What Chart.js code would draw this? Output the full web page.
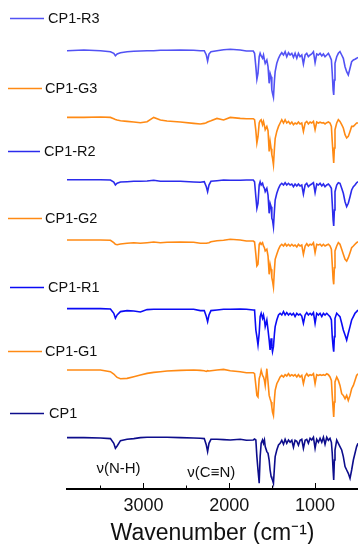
<!DOCTYPE html>
<html><head><meta charset="utf-8">
<script src="https://cdn.jsdelivr.net/npm/chart.js@4.4.0/dist/chart.umd.min.js"></script>
<style>html,body{margin:0;padding:0;background:#fff}#wrap{width:358px;height:544px;position:relative}canvas{display:block}</style>
</head><body><div id="wrap"><canvas id="c" width="358" height="544"></canvas></div>
<script>
// Wavenumbers (cm-1), shared sampling for all spectra
const WAVENUMBERS = [3890,3694,3500,3384,3345,3326,3306,3267,3190,3112,3035,2957,2880,2802,2725,2570,2415,2337,2291,2267,2252,2236,2213,2143,2066,1988,1872,
1800,1720,1705,1690,1678,1665,1651,1640,1628,1612,1601,1590,1581,1562,1548,1535,1524,1512,1504,1496,1485,1473,1465,1446,1426,1407,1388,1368,1349,1330,1310,1291,1271,1252,1233,1213,1194,1175,1155,1136,1116,1097,1078,1058,1039,1019,1000,981,961,942,922,903,884,864,845,826,810,800,790,783,775,768,748,729,710,690,671,651,632,613,593,574,554,535,516,500];

const SERIES_NAMES = ['CP1-R3','CP1-G3','CP1-R2','CP1-G2','CP1-R1','CP1-G1','CP1'];

// Transmittance drop below each trace's baseline (positive = downward)
const CP1_R3 = [-0.3,-1,-0.3,0.7,2.3,4.7,3,1.7,0.7,0.3,0,-0.3,-0.3,-0.7,-0.7,-1,-0.7,-0.3,-0.3,4,10,3,0.7,-0.3,-1.3,-1.7,-1,
0,0,2.3,15.7,28.3,22.3,5.7,2.3,5,7.3,4,9,12.3,9,15.7,32.3,22.3,25.7,39,42.3,46.3,29,20.7,12.3,7.3,4,1.7,4,0.7,5.7,1.7,4,2.3,6.3,2.3,7.3,2.3,5.7,4,13,4,2.3,5.7,4,3,0.7,11.7,3,4,2.3,5,3,5.7,4,2.3,5.7,9,22.3,39,44,29,12.3,5.7,2.3,0.7,4,7.3,15.7,20.7,24,17.3,10.7,9,8.3,7.3,6.3];
const CP1_G3 = [-1.3,-1.3,-1.7,-1.3,0,0.7,1.3,2,2.7,3.3,4,3,-1.3,1.3,2.3,3.3,4.7,5.3,4.7,4,3.3,2.7,2,-0.3,1.3,-1.3,-0.3,
0,0,1,12,24.3,18,4.3,2,1,6,2.7,7,11,7.7,12,32.7,22.7,30,36,39.3,46,29.3,20,12.7,7.7,4.3,1,4.3,1,4.3,2.7,5.3,3.3,6,4.3,5.3,3.3,5.3,4.3,12.7,4.3,2.7,5.3,3.3,4.3,2.7,11,3.3,4.3,3.5,4.3,4,5.3,4,3.3,4.3,7.7,22.7,36,44.3,29.3,11,4.3,1,2.7,6,9.3,16,19.3,17.7,12.7,7.7,7.7,6,4.3,4.3];
const CP1_R2 = [-0.3,-0.3,-0.3,0,2,5,3.3,2,1.7,1.3,1.3,1,0.3,1.3,1.3,1.3,2,2.3,1.7,6.7,11.7,5,1.3,0.7,0,0.3,0.3,
0,0,1.7,16.7,28.3,23.3,5,1.7,5,3.3,6.7,8.3,11.7,8.3,15,33.3,23.3,26.7,38.3,40,46.7,30,20,13.3,8.3,5,3.3,5,2.7,5,3.3,5,4,6.7,4,6,4,6,5,14,5,3.3,6.7,5,4,2.7,12.7,4,5,3.3,6,4,6.7,5,4,6,8.3,23.3,40,46,30,11.7,5,2.7,3.3,8.3,13.3,21.7,26.7,23.3,16.7,10,6.7,5,2.7,1.7];
const CP1_G2 = [-1,-1,-1,-0.7,1.7,3.3,3.7,3,2.3,1.7,2.3,1.7,1,1.7,1.3,1,1.3,2.3,2.3,2.3,2,1.7,0.7,-0.3,-0.7,-1.7,-1,
0,0,1,13.3,25,23.3,3.3,1.7,3.3,1.7,5,6.7,10,8.3,15,33.3,23.3,28.3,36.7,40,46,28.3,18.3,13.3,8.3,5,3.3,5,2.7,5,3.3,5,3.3,5,4,6,3.3,5,4,13.3,5,2.7,5,3.3,4,1.7,11.7,3.3,4,3.3,5,3.3,5,4,3.3,5,8.3,23.3,38.3,43.3,26.7,10,5,1.7,3.3,8.3,13.3,18.3,20,16.7,11.7,6.7,5,3.3,1.7,0.7];
const CP1_R1 = [-0.7,-0.7,-0.7,-0.3,4,9,5.7,2.3,1.3,1.7,2.7,0.3,0,0,0,0,0,1.3,1.3,7.3,12.3,5.7,1.3,0.7,0,0,-0.3,
0,0.7,0.7,20.7,27.3,35.7,24,7.3,4,9,5.7,10.7,17.3,10.7,20.7,30.7,40.7,29,37.3,42.3,37.3,24,17.3,10.7,5.7,4,5.7,2.3,5.7,3.3,5.7,4,5.7,4,7.3,4,5.7,4.7,6.7,14,5.7,3.3,5.7,4,5.7,3.3,14,4,5.7,4,7.3,4,5.7,4,5.7,7.3,10.7,27.3,37.3,42.3,27.3,9,4,5.7,7.3,14,20.7,25.7,30.7,24,17.3,10.7,7.3,4,2.3,0.7];
const CP1_G1 = [-2.7,-2.7,-2.7,-1,1.3,3,4.7,6,5.7,4,2.3,0.7,-0.3,-1,-1.7,-2.3,-2.7,-2.3,-2,-1.3,-2,-1.7,-2,-2.7,-3.3,-2,-1,
0,0,1,12.7,22.7,24.3,6,2.7,-2.3,2.7,4.3,7.7,12.7,-4,9.3,22.7,26,29.3,34.3,39.3,42.7,26,17.7,11,7.7,4.3,2.7,4.3,2,3.3,1,3.3,2,3.3,2,4.3,2,4.3,2.7,11,3.3,1,3.3,2,2.7,1,11,2,2.7,2,2.7,2,2.7,1,2,4.3,7.7,22.7,36,44.3,29.3,9.3,4.3,7.7,12.7,21,22.7,26,22.7,27.7,22.7,16,12.7,7.7,2.7,1];
const CP1 = [-0.7,-0.7,-0.3,0.3,5,10,7.7,2.3,1,0.3,-0.7,-1,-1,-1,-1,-0.7,-0.3,0,0.3,6.7,13.3,5,1,1,1.3,1.7,1,
2,1.7,0.7,1.7,18.3,31.7,45,18.3,5,1.7,5,1.7,8.3,13.3,15,21.7,31.7,38.3,40,41.7,45,28.3,18.3,11.7,6.7,5,2,6,1,5,1.7,4,2,9,2,3,7,2,1,10,2,1,5,0,1.7,-1,10,1,4,0,4,-1,6,-1,2,0,4,15,31.7,41.7,21.7,11.7,1.7,5,8.3,11.7,18.3,28.3,31.7,35,40,31.7,21.7,15,8.3,5];

// Vertical offsets (stacking) of each trace, in y units
const OFFSETS = [438, 370.3, 309, 248, 179.7, 116.3, 50.7];

const MAJOR_TICKS = [3000, 2000, 1000];
const MINOR_TICKS = [3500, 2500, 1500];
const BAND_LABELS = ['ν(N-H)', 'ν(C≡N)'];
const BAND_POSITIONS = [3290, 2209];

const SERIES = [CP1_R3, CP1_G3, CP1_R2, CP1_G2, CP1_R1, CP1_G1, CP1];
const COLORS = ['#5252F4', '#FF8A14', '#2B2BEC', '#FF8A14', '#0B0BF5', '#FF8A14', '#0D0D8C'];

const datasets = SERIES.map((arr, i) => ({
  label: SERIES_NAMES[i],
  data: WAVENUMBERS.map((w, j) => ({ x: w, y: OFFSETS[i] - arr[j] })),
  borderColor: COLORS[i],
  borderWidth: 1.6,
  pointRadius: 0,
  tension: 0,
  fill: false
}));

const FONT = "'Liberation Sans', Arial, sans-serif";

const decor = {
  id: 'decor',
  afterDraw(chart) {
    const ctx = chart.ctx;
    const xs = chart.scales.x;
    const bottom = chart.chartArea.bottom;
    ctx.save();
    // inward tick marks
    ctx.strokeStyle = '#000';
    ctx.lineWidth = 1;
    MAJOR_TICKS.forEach(v => {
      const x = Math.round(xs.getPixelForValue(v)) + 0.5;
      ctx.beginPath(); ctx.moveTo(x, bottom); ctx.lineTo(x, bottom - 6); ctx.stroke();
    });
    MINOR_TICKS.forEach(v => {
      const x = Math.round(xs.getPixelForValue(v)) + 0.5;
      ctx.beginPath(); ctx.moveTo(x, bottom); ctx.lineTo(x, bottom - 3.5); ctx.stroke();
    });
    // legend entries beside each trace
    const legY = [18, 88, 151, 218, 287, 351, 413];
    const legX0 = [10, 8, 8, 8, 10, 8, 10];
    const legX1 = [44, 42, 40, 42, 44, 42, 44];
    const txtX = [48, 45, 44, 45, 48, 45, 49];
    ctx.font = '14.5px ' + FONT;
    ctx.textBaseline = 'middle';
    ctx.textAlign = 'left';
    SERIES_NAMES.forEach((name, i) => {
      ctx.strokeStyle = COLORS[i];
      ctx.lineWidth = 1.5;
      ctx.beginPath(); ctx.moveTo(legX0[i], legY[i] + 0.5); ctx.lineTo(legX1[i], legY[i] + 0.5); ctx.stroke();
      ctx.fillStyle = '#111';
      ctx.fillText(name, txtX[i], legY[i] + 1);
    });
    // band assignments
    ctx.font = '15px ' + FONT;
    ctx.textAlign = 'center';
    const bandY = [469, 473];
    BAND_LABELS.forEach((t, i) => {
      ctx.fillStyle = '#111';
      ctx.fillText(t, xs.getPixelForValue(BAND_POSITIONS[i]), bandY[i]);
    });
    ctx.restore();
  }
};

new Chart(document.getElementById('c'), {
  type: 'line',
  data: { datasets },
  options: {
    responsive: false,
    animation: false,
    devicePixelRatio: 1,
    layout: { padding: { left: 67, right: 0, top: 0, bottom: 0 } },
    plugins: { legend: { display: false }, tooltip: { enabled: false } },
    scales: {
      x: {
        type: 'linear',
        position: 'bottom',
        min: 500,
        max: 3890,
        reverse: true,
        grid: { display: false },
        border: { display: true, color: '#000', width: 2 },
        afterBuildTicks: s => { s.ticks = [...MAJOR_TICKS, ...MINOR_TICKS].sort((a, b) => a - b).map(v => ({ value: v })); },
        afterFit: s => { s.height = 55; },
        ticks: {
          autoSkip: false, maxRotation: 0, color: '#111', padding: -2,
          font: { size: 18, family: FONT },
          callback: v => MAJOR_TICKS.includes(v) ? String(v) : ''
        },
        title: { display: true, text: 'Wavenumber (cm⁻¹)', color: '#111', padding: { top: 0, bottom: -3 }, font: { size: 23, family: FONT } }
      },
      y: { display: false, min: 0, max: 489 }
    }
  },
  plugins: [decor]
});
</script></body></html>
